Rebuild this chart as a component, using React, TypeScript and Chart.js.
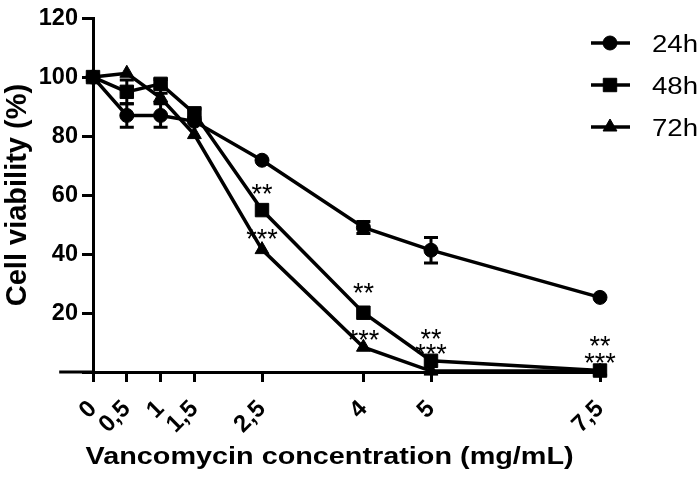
import React, { useEffect, useRef } from 'react';
import { Chart, registerables } from 'chart.js';
import { drawPoint } from 'chart.js/helpers';

Chart.register(...registerables);

// ---- Data ----
const concentrations = [0, 0.5, 1, 1.5, 2.5, 4, 5, 7.5];
const tickLabels = ['0', '0,5', '1', '1,5', '2,5', '4', '5', '7,5'];
const seriesLabels = ['24h', '48h', '72h'];
const viability24 = [100, 87, 87, 85, 71.8, 49, 41.3, 25.3];
const viability48 = [100, 95, 97.7, 87.7, 54.9, 20.1, 3.8, 0.5];
const viability72 = [100, 101.3, 93, 80.5, 41.5, 8.4, 0.3, 0.3];
const error24 = [0, 4, 4, 0, 0, 2, 4.3, 0];
const error48 = [0, 4, 1.5, 1.5, 0, 0, 0, 0];
const error72 = [0, 0, 1.5, 0, 0, 0, 0, 0];
const yTickValues = [0, 20, 40, 60, 80, 100, 120];
const starX = [2.5, 2.5, 4, 4, 5, 5, 7.5, 7.5];
const starY = [62.7, 47.3, 29, 13, 13.4, 8.4, 10.9, 5.3];
const starText = ['**', '***', '**', '***', '**', '***', '**', '***'];
const xTitle = 'Vancomycin concentration (mg/mL)';
const yTitle = 'Cell viability (%)';

const seriesValues = [viability24, viability48, viability72];
const seriesErrors = [error24, error48, error72];
const pointStyles = ['circle', 'rect', 'triangle'];
const pointRadii = [7, 9.5, 8];

const FONT = '"Liberation Sans", Arial, sans-serif';

const errorBarPlugin = {
  id: 'errorBars',
  beforeDatasetsDraw(chart: any) {
    const { ctx } = chart;
    const xs = chart.scales.x;
    const ys = chart.scales.y;
    ctx.save();
    ctx.strokeStyle = '#000';
    ctx.lineWidth = 3;
    seriesValues.forEach((vals, si) => {
      vals.forEach((v, i) => {
        const e = seriesErrors[si][i];
        if (!e) return;
        const x = xs.getPixelForValue(concentrations[i]);
        const yTop = ys.getPixelForValue(v + e);
        const yBot = ys.getPixelForValue(v - e);
        ctx.beginPath();
        ctx.moveTo(x, yTop);
        ctx.lineTo(x, yBot);
        ctx.moveTo(x - 7, yTop);
        ctx.lineTo(x + 7, yTop);
        ctx.moveTo(x - 7, yBot);
        ctx.lineTo(x + 7, yBot);
        ctx.stroke();
      });
    });
    ctx.restore();
  },
};

const decorPlugin = {
  id: 'decor',
  afterDraw(chart: any) {
    const { ctx, chartArea } = chart;
    const xs = chart.scales.x;
    const ys = chart.scales.y;
    ctx.save();
    // x axis line extension to the left of the y axis
    ctx.strokeStyle = '#000';
    ctx.lineWidth = 3;
    ctx.beginPath();
    ctx.moveTo(xs.getPixelForValue(-0.5), chartArea.bottom);
    ctx.lineTo(chartArea.left, chartArea.bottom);
    ctx.stroke();

    // significance stars
    ctx.fillStyle = '#000';
    ctx.font = `27px ${FONT}`;
    ctx.textAlign = 'center';
    ctx.textBaseline = 'alphabetic';
    starX.forEach((sx, i) => {
      const px = xs.getPixelForValue(sx);
      const py = ys.getPixelForValue(starY[i]);
      ctx.fillText(starText[i], px, py + 0.578 * 27);
    });

    // x axis title
    const cx = (xs.getPixelForValue(-0.5) + xs.getPixelForValue(7.5)) / 2;
    ctx.save();
    ctx.translate(cx, 464);
    ctx.scale(1.2, 1);
    ctx.font = `bold 24px ${FONT}`;
    ctx.textAlign = 'center';
    ctx.fillText(xTitle, 0, 0);
    ctx.restore();

    // legend
    const rows = [43, 85, 127];
    seriesLabels.forEach((lab, i) => {
      const y = rows[i];
      ctx.strokeStyle = '#000';
      ctx.fillStyle = '#000';
      ctx.lineWidth = 3.5;
      ctx.beginPath();
      ctx.moveTo(591, y);
      ctx.lineTo(630, y);
      ctx.stroke();
      ctx.lineWidth = 1;
      drawPoint(ctx, { pointStyle: pointStyles[i], radius: pointRadii[i], rotation: 0, borderWidth: 1 } as any, 610, y);
      ctx.save();
      ctx.translate(652, y + 9);
      ctx.scale(1.2, 1);
      ctx.font = `23px ${FONT}`;
      ctx.textAlign = 'left';
      ctx.textBaseline = 'alphabetic';
      ctx.fillText(lab, 0, 0);
      ctx.restore();
    });
    ctx.restore();
  },
};

export default function App() {
  const canvasRef = useRef<HTMLCanvasElement>(null);

  useEffect(() => {
    const canvas = canvasRef.current;
    if (!canvas) return;
    const datasets = seriesLabels.map((label, si) => ({
      label,
      data: concentrations.map((x, i) => ({ x, y: seriesValues[si][i] })),
      borderColor: '#000',
      backgroundColor: '#000',
      borderWidth: 3.5,
      pointStyle: pointStyles[si] as any,
      pointRadius: pointRadii[si],
      pointBorderWidth: 1,
      pointBackgroundColor: '#000',
      pointBorderColor: '#000',
      tension: 0,
      clip: false as any,
    }));
    const chart = new Chart(canvas, {
      type: 'line',
      data: { datasets },
      options: {
        responsive: false,
        animation: false,
        devicePixelRatio: 1,
        layout: { padding: { left: 0, top: 12, right: 100, bottom: 0 } },
        plugins: { legend: { display: false }, tooltip: { enabled: false } },
        scales: {
          x: {
            type: 'linear',
            min: 0,
            max: 7.5,
            afterBuildTicks: (scale: any) => {
              scale.ticks = concentrations.map((v) => ({ value: v }));
            },
            afterFit: (scale: any) => {
              scale.height = 105;
            },
            ticks: {
              autoSkip: false,
              minRotation: 45,
              maxRotation: 45,
              padding: 13,
              color: '#000',
              font: { family: FONT, size: 24, weight: 'bold' },
              callback: (v: any) => {
                const idx = concentrations.indexOf(Number(v));
                return idx >= 0 ? tickLabels[idx] : '';
              },
            },
            grid: { drawOnChartArea: false, drawTicks: true, tickLength: 10, color: '#000', lineWidth: 3 },
            border: { color: '#000', width: 3 },
          },
          y: {
            type: 'linear',
            min: 0,
            max: 120,
            afterBuildTicks: (scale: any) => {
              scale.ticks = yTickValues.map((v) => ({ value: v }));
            },
            afterFit: (scale: any) => {
              scale.width = 93;
            },
            ticks: {
              padding: 4,
              color: '#000',
              font: { family: FONT, size: 23.5, weight: 'bold' },
              callback: (v: any) => (Number(v) === 0 ? '' : String(v)),
            },
            grid: { drawOnChartArea: false, drawTicks: true, tickLength: 11, color: '#000', lineWidth: 3 },
            border: { color: '#000', width: 3 },
            title: {
              display: true,
              text: yTitle,
              color: '#000',
              font: { family: FONT, size: 29, weight: 'bold', lineHeight: 1 },
              padding: { top: 3.5, bottom: 0 },
            },
          },
        },
      },
      plugins: [errorBarPlugin, decorPlugin],
    });
    return () => chart.destroy();
  }, []);

  return (
    <div style={{ position: 'absolute', left: 0, top: 0, width: 700, height: 477, background: '#fff' }}>
      <canvas ref={canvasRef} width={700} height={477} style={{ display: 'block' }} />
    </div>
  );
}
